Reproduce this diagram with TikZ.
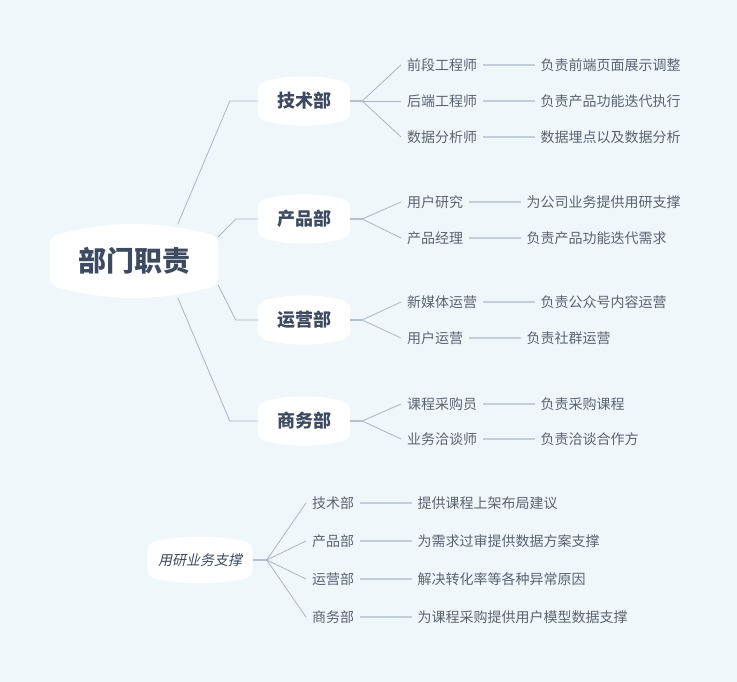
\documentclass[tikz,border=0pt]{standalone}
\usepackage{fontspec}
\setmainfont{Noto Sans CJK SC}
\newfontfamily\slantcjk{Noto Sans CJK SC}[FakeSlant=0.22]
\usetikzlibrary{positioning,calc}

\definecolor{bgblue}{HTML}{EFF7FA}
\definecolor{inkblue}{HTML}{3D4A5F}
\definecolor{leafgray}{HTML}{5A6371}
\definecolor{branchgray}{HTML}{A9B5C3}
\definecolor{stemgray}{HTML}{B3BFCD}
\definecolor{twiggray}{HTML}{C4CEDA}

\pgfdeclarelayer{canvas}
\pgfdeclarelayer{blobs}
\pgfsetlayers{canvas,blobs,main}

% white bubble behind a node: name, drop of the corners, bend
\newcommand\bubble[3]{%
  \fill[white,rounded corners=8pt] ($(#1.north west)+(0,-#2)$) to[bend left=#3] ($(#1.north east)+(0,-#2)$)
    -- ($(#1.south east)+(0,#2)$) to[bend left=#3] ($(#1.south west)+(0,#2)$) -- cycle;}

\begin{document}
\begin{tikzpicture}[x=1pt,y=-1pt,
  every node/.style={inner sep=0pt,text=leafgray,font=\fontsize{14pt}{16pt}\selectfont},
  root/.style={minimum width=168pt,minimum height=73pt,text=inkblue,font=\fontsize{28pt}{32pt}\selectfont\bfseries},
  dept/.style={minimum width=92pt,minimum height=48pt,text=inkblue,font=\fontsize{18pt}{22pt}\selectfont\bfseries},
  leaf/.style={anchor=west,inner xsep=6pt},
  desc/.style={inner xsep=5pt},
  branch/.style={draw=branchgray,line width=0.8pt},
  stem/.style={draw=stemgray,line width=1.8pt},
  twig/.style={draw=twiggray,line width=1.4pt}
]
  \begin{pgfonlayer}{canvas}
    \fill[bgblue] (0,0) rectangle (737,682);
  \end{pgfonlayer}

  % main tree
  \node[root] (root) at (134,261) {部门职责};
  \node[dept] (tech) at (304,101) {技术部};
  \node[dept] (prod) at (304,219) {产品部};
  \node[dept] (ops) at (304,320) {运营部};
  \node[dept] (biz) at (304,421) {商务部};

  \node[leaf] (t1) at (401,65) {前段工程师};
  \node[leaf] (t2) at (401,101) {后端工程师};
  \node[leaf] (t3) at (401,137) {数据分析师};
  \node[desc,right=52pt of t1] (td1) {负责前端页面展示调整};
  \node[desc,right=52pt of t2] (td2) {负责产品功能迭代执行};
  \node[desc,right=52pt of t3] (td3) {数据埋点以及数据分析};

  \node[leaf] (p1) at (401,202) {用户研究};
  \node[leaf] (p2) at (401,238) {产品经理};
  \node[desc,right=52pt of p1] (pd1) {为公司业务提供用研支撑};
  \node[desc,right=52pt of p2] (pd2) {负责产品功能迭代需求};

  \node[leaf] (o1) at (401,302) {新媒体运营};
  \node[leaf] (o2) at (401,338) {用户运营};
  \node[desc,right=52pt of o1] (od1) {负责公众号内容运营};
  \node[desc,right=52pt of o2] (od2) {负责社群运营};

  \node[leaf] (b1) at (401,404) {课程采购员};
  \node[leaf] (b2) at (401,439) {业务洽谈师};
  \node[desc,right=52pt of b1] (bd1) {负责采购课程};
  \node[desc,right=52pt of b2] (bd2) {负责洽谈合作方};

  % second tree
  \node[minimum width=105pt,minimum height=44pt,text=inkblue,font=\fontsize{14pt}{16pt}\slantcjk] (res) at (200,560) {用研业务支撑};
  \node[leaf] (r1) at (306,503) {技术部};
  \node[leaf] (r2) at (306,541) {产品部};
  \node[leaf] (r3) at (306,579) {运营部};
  \node[leaf] (r4) at (306,617) {商务部};
  \node[desc,right=52pt of r1] (rd1) {提供课程上架布局建议};
  \node[desc,right=52pt of r2] (rd2) {为需求过审提供数据方案支撑};
  \node[desc,right=52pt of r3] (rd3) {解决转化率等各种异常原因};
  \node[desc,right=52pt of r4] (rd4) {为课程采购提供用户模型数据支撑};

  \begin{pgfonlayer}{blobs}
    \bubble{root}{12pt}{14}
    \foreach \n in {tech,prod,ops,biz} {\bubble{\n}{5.5pt}{12}}
    \bubble{res}{5pt}{11}
  \end{pgfonlayer}

  % connectors
  \draw[branch] (root.40) -- ($(tech.west)+(-28pt,0)$) -- (tech.west);
  \draw[branch] (root.16) -- ($(prod.west)+(-22pt,0)$) -- (prod.west);
  \draw[branch] (root.-16) -- ($(ops.west)+(-22pt,0)$) -- (ops.west);
  \draw[branch] (root.-40) -- ($(biz.west)+(-28pt,0)$) -- (biz.west);

  \draw[stem] (tech.east) -- ++(12pt,0) coordinate (tf);
  \draw[stem] (prod.east) -- ++(12pt,0) coordinate (pf);
  \draw[stem] (ops.east) -- ++(12pt,0) coordinate (of);
  \draw[stem] (biz.east) -- ++(12pt,0) coordinate (bf);
  \draw[stem] (res.east) -- ++(14pt,0) coordinate (rf);

  \foreach \f/\l in {tf/t1,tf/t2,tf/t3,pf/p1,pf/p2,of/o1,of/o2,bf/b1,bf/b2,rf/r1,rf/r2,rf/r3,rf/r4}
    \draw[branch] (\f) -- (\l.west);

  \foreach \l/\d in {t1/td1,t2/td2,t3/td3,p1/pd1,p2/pd2,o1/od1,o2/od2,b1/bd1,b2/bd2,r1/rd1,r2/rd2,r3/rd3,r4/rd4}
    \draw[twig] (\l) -- (\d);
\end{tikzpicture}
\end{document}
